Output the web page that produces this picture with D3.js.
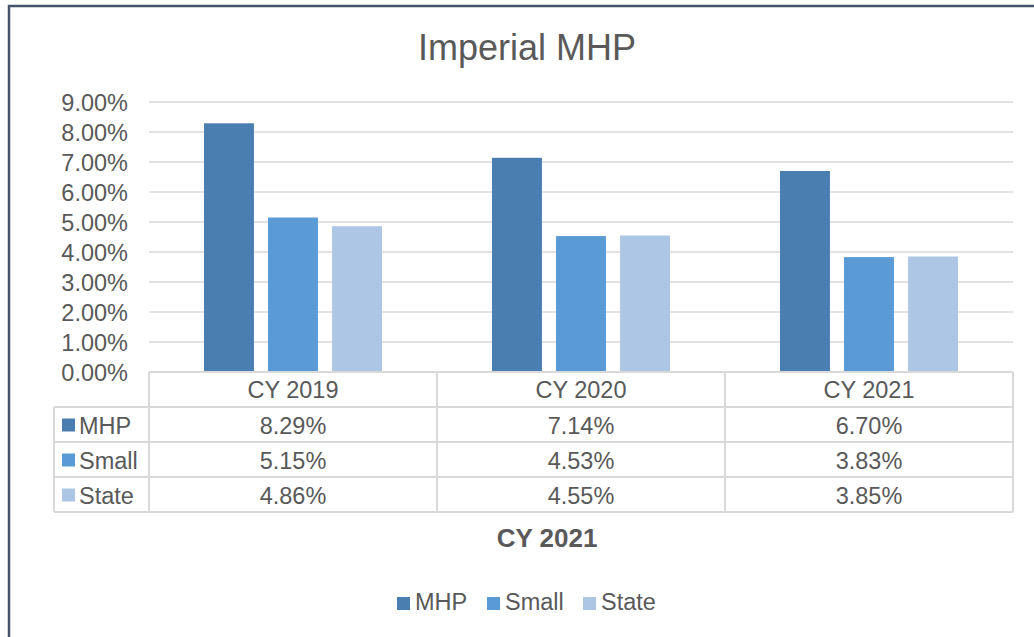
<!DOCTYPE html>
<html>
<head>
<meta charset="utf-8">
<script src="https://cdn.jsdelivr.net/npm/d3@7"></script>
<style>
  body { margin: 0; background: #fff; }
  svg { font-family: "Liberation Sans", Arial, sans-serif; }
</style>
</head>
<body>
<svg id="chart" width="1034" height="637"></svg>
<script>
// data
let categories = ["CY 2019", "CY 2020", "CY 2021"]
let seriesNames = ["MHP", "Small", "State"]
let mhpValues = [0.0829, 0.0714, 0.0670]
let smallValues = [0.0515, 0.0453, 0.0383]
let stateValues = [0.0486, 0.0455, 0.0385]
let yTicks = [0, 0.01, 0.02, 0.03, 0.04, 0.05, 0.06, 0.07, 0.08, 0.09]

let seriesValues = [mhpValues, smallValues, stateValues]
let colors = ["#4a7eb0", "#5b9bd5", "#adc6e6"]
let textColor = "#595959"
let lineColor = "#d9d9d9"
let fontSize = "23.5px"

let svg = d3.select("#chart")

// outer frame (right and bottom edges sit outside the window)
svg.append("rect")
    .attr("x", 9).attr("y", 6)
    .attr("width", 1100).attr("height", 700)
    .attr("fill", "#fff")
    .attr("stroke", "#44546a")
    .attr("stroke-width", 2.5)

svg.append("text")
    .attr("x", 527).attr("y", 60)
    .attr("text-anchor", "middle")
    .attr("fill", textColor)
    .style("font-size", "36px")
    .text("Imperial MHP")

let plotLeft = 149, plotRight = 1013, plotTop = 102, plotBottom = 372

let x0 = d3.scaleBand().domain(categories).range([plotLeft, plotRight])
let x1 = d3.scaleBand().domain(seriesNames).range([55, 233]).paddingInner(0.22)
let y = d3.scaleLinear().domain([0, 0.09]).range([plotBottom, plotTop])

// gridlines
svg.append("g")
    .selectAll("line")
    .data(yTicks)
    .enter().append("line")
    .attr("x1", plotLeft).attr("x2", plotRight)
    .attr("y1", d => y(d)).attr("y2", d => y(d))
    .attr("stroke", lineColor)
    .attr("stroke-width", 1.5)

// y axis labels
let yAxis = svg.append("g")
    .attr("transform", "translate(" + (plotLeft - 21) + ",0)")
    .call(d3.axisLeft(y).tickValues(yTicks).tickFormat(d3.format(".2%")).tickSize(0).tickPadding(0))
yAxis.select(".domain").remove()
yAxis.selectAll("text")
    .attr("fill", textColor)
    .attr("dy", 8.5)
    .style("font-size", fontSize)
    .style("font-family", "Liberation Sans, Arial, sans-serif")

// bars
let groups = svg.append("g")
    .selectAll("g")
    .data(categories)
    .enter().append("g")
    .attr("transform", d => "translate(" + x0(d) + ",0)")

groups.selectAll("rect")
    .data((d, i) => seriesNames.map((s, j) => ({ name: s, value: seriesValues[j][i], k: j })))
    .enter().append("rect")
    .attr("x", d => x1(d.name))
    .attr("width", x1.bandwidth())
    .attr("y", d => y(d.value))
    .attr("height", d => y(0) - y(d.value))
    .attr("fill", d => colors[d.k])

// data table
let rowH = 35
let tableLeft = 54
let table = svg.append("g")

// header row
table.selectAll(".hdr")
    .data(categories)
    .enter().append("text")
    .attr("x", d => x0(d) + x0.bandwidth() / 2)
    .attr("y", plotBottom + rowH / 2 + 8)
    .attr("text-anchor", "middle")
    .attr("fill", textColor)
    .style("font-size", fontSize)
    .text(d => d)

seriesNames.forEach((s, j) => {
    let rowTop = plotBottom + rowH * (j + 1)
    table.append("rect")
        .attr("x", 62).attr("y", rowTop + rowH / 2 - 6)
        .attr("width", 13).attr("height", 13)
        .attr("fill", colors[j])
    table.append("text")
        .attr("x", 79).attr("y", rowTop + rowH / 2 + 9)
        .attr("fill", textColor)
        .style("font-size", fontSize)
        .text(s)
    table.selectAll(".v" + j)
        .data(seriesValues[j])
        .enter().append("text")
        .attr("x", (d, i) => x0(categories[i]) + x0.bandwidth() / 2)
        .attr("y", rowTop + rowH / 2 + 9)
        .attr("text-anchor", "middle")
        .attr("fill", textColor)
        .style("font-size", fontSize)
        .text(d => d3.format(".2%")(d))
})

// table grid lines
let tableBottom = plotBottom + rowH * 4
let hLines = [0, 1, 2, 3, 4]
table.selectAll(".hl")
    .data(hLines)
    .enter().append("line")
    .attr("x1", d => d == 0 ? plotLeft : tableLeft)
    .attr("x2", plotRight)
    .attr("y1", d => plotBottom + d * rowH).attr("y2", d => plotBottom + d * rowH)
    .attr("stroke", lineColor).attr("stroke-width", 2)
let vLines = [plotLeft].concat(categories.map(c => x0(c) + x0.bandwidth()))
table.selectAll(".vl")
    .data(vLines)
    .enter().append("line")
    .attr("x1", d => d).attr("x2", d => d)
    .attr("y1", plotBottom).attr("y2", tableBottom)
    .attr("stroke", lineColor).attr("stroke-width", 2)
table.append("line")
    .attr("x1", tableLeft).attr("x2", tableLeft)
    .attr("y1", plotBottom + rowH).attr("y2", tableBottom)
    .attr("stroke", lineColor).attr("stroke-width", 2)

// axis title
svg.append("text")
    .attr("x", 547).attr("y", 547)
    .attr("text-anchor", "middle")
    .attr("fill", textColor)
    .style("font-size", "26px")
    .style("font-weight", "bold")
    .text("CY 2021")

// legend
let legendX = [397, 487, 583]
let legend = svg.append("g")
    .selectAll("g")
    .data(seriesNames)
    .enter().append("g")
    .attr("transform", (d, i) => "translate(" + legendX[i] + ",597)")
legend.append("rect")
    .attr("width", 13).attr("height", 13)
    .attr("fill", (d, i) => colors[i])
legend.append("text")
    .attr("x", 18).attr("y", 13)
    .attr("fill", textColor)
    .style("font-size", fontSize)
    .text(d => d)
</script>
</body>
</html>
